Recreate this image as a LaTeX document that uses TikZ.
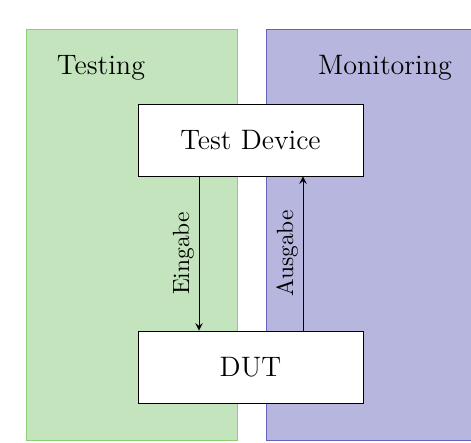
\documentclass[tikz,border=0pt]{standalone}
\usepackage{tikz}
\usetikzlibrary{positioning}
\definecolor{testgreen}{RGB}{196,228,190}
\definecolor{testgreenline}{RGB}{140,205,120}
\definecolor{monblue}{RGB}{182,182,222}
\definecolor{monblueline}{RGB}{100,100,185}
\tikzset{
  area/.style={rectangle, anchor=south west, inner sep=0pt},
  block/.style={draw, rectangle, fill=white, minimum width=3.375cm, minimum height=1.08cm, font=\fontsize{12}{14}\selectfont},
  flow/.style={->, >=stealth},
  flowlabel/.style={midway, rotate=90, anchor=south, inner sep=2pt}
}
\begin{document}
\begin{tikzpicture}
\useasboundingbox (0,0) rectangle (7.065,6.645);
\node[area, draw=testgreenline, fill=testgreen, minimum width=3.165cm, minimum height=6.165cm] (testing) at (0.39,0.03) {};
\node[area, draw=monblueline, fill=monblue, minimum width=3.2cm, minimum height=6.165cm] (monitoring) at (3.99,0.03) {};
\node[font=\fontsize{12}{14}\selectfont] (testlabel) at (1.515,5.625) {Testing};
\node[font=\fontsize{12}{14}\selectfont] (monlabel) at (5.775,5.625) {Monitoring};
\node[block] (device) at (3.7575,4.545) {Test Device};
\node[block] (dut) at (3.7575,1.14) {DUT};
\draw[flow] (device.south -| 2.985,0) -- node[flowlabel] {Eingabe} (dut.north -| 2.985,0);
\draw[flow] (dut.north -| 4.545,0) -- node[flowlabel] {Ausgabe} (device.south -| 4.545,0);
\end{tikzpicture}
\end{document}
